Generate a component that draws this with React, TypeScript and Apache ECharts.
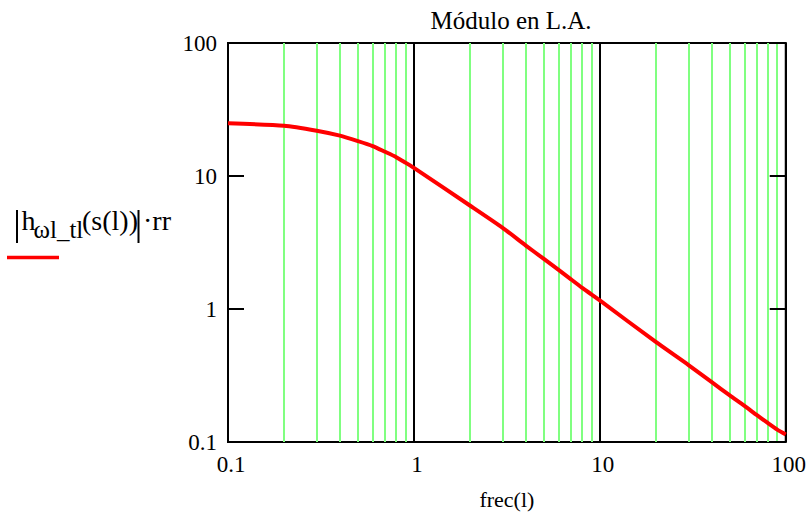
import React, { useEffect, useRef } from "react";
import * as echarts from "echarts";

const freq = [0.1, 0.2, 0.3, 0.4, 0.5, 0.6, 0.7, 0.8, 0.9, 1, 2, 3, 4, 5, 6, 7, 8, 9, 10, 20, 30, 40, 50, 60, 70, 80, 90, 100];
const magnitude = [24.9, 23.9, 21.9, 20.1, 18.3, 16.8, 15.2, 13.9, 12.6, 11.5, 6.0, 4.08, 3.0, 2.38, 1.97, 1.67, 1.45, 1.29, 1.16, 0.565, 0.379, 0.282, 0.224, 0.187, 0.159, 0.139, 0.124, 0.114];
const minorGridX = [0.2, 0.3, 0.4, 0.5, 0.6, 0.7, 0.8, 0.9, 2, 3, 4, 5, 6, 7, 8, 9, 20, 30, 40, 50, 60, 70, 80, 90];
const tickLabels = ["0.1", "1", "10", "100"];

const FONT = "'Liberation Serif', 'Times New Roman', serif";

function fmt(v: number) {
  let best = tickLabels[0];
  let bd = Infinity;
  for (const t of tickLabels) {
    const d = Math.abs(Math.log10(Number(t)) - Math.log10(v));
    if (d < bd) { bd = d; best = t; }
  }
  return best;
}

export default function App() {
  const ref = useRef<HTMLDivElement>(null);
  useEffect(() => {
    if (!ref.current) return;
    const chart = echarts.init(ref.current, undefined, { renderer: "svg" });
    const labelStyle = { color: "#000", fontFamily: FONT, fontSize: 23 };
    const mainSize = 28;
    const subSize = 25;
    const mid = (baseline: number, size: number) => baseline - 0.33 * size;
    chart.setOption({
      animation: false,
      backgroundColor: "#fff",
      title: {
        text: "Módulo en L.A.",
        left: 506,
        textAlign: "center",
        top: 3,
        textStyle: { color: "#000", fontFamily: FONT, fontSize: 25, fontWeight: "normal" },
      },
      grid: { left: 228, top: 43, right: 23, bottom: 73, show: true, borderColor: "#000", borderWidth: 2, backgroundColor: "transparent" },
      xAxis: {
        type: "log",
        logBase: 10,
        min: 0.1,
        max: 100,
        name: "frec(l)",
        nameLocation: "middle",
        nameGap: 46,
        nameTextStyle: { color: "#000", fontFamily: FONT, fontSize: 22 },
        axisLine: { show: false },
        axisTick: { show: false },
        axisLabel: { ...labelStyle, margin: 11, formatter: (v: number) => fmt(v), padding: [0, 0, 0, 6] },
        splitLine: { show: true, lineStyle: { color: "#000", width: 2 } },
      },
      yAxis: [
        {
          type: "log",
          logBase: 10,
          min: 0.1,
          max: 100,
          position: "left",
          z: 10,
          axisLine: { show: false },
          axisTick: { show: true, inside: true, length: 16, lineStyle: { color: "#000", width: 2 } },
          axisLabel: { ...labelStyle, margin: 11, formatter: (v: number) => fmt(v), padding: [10, 0, 0, 0] },
          splitLine: { show: false },
        },
        {
          type: "log",
          logBase: 10,
          min: 0.1,
          max: 100,
          position: "right",
          z: 10,
          axisLine: { show: false },
          axisTick: { show: true, inside: true, length: 16, lineStyle: { color: "#000", width: 2 } },
          axisLabel: { show: false },
          splitLine: { show: false },
        },
      ],
      series: [
        {
          type: "line",
          data: [],
          z: 1,
          silent: true,
          markLine: {
            silent: true,
            symbol: "none",
            label: { show: false },
            lineStyle: { color: "#80ff80", width: 2, type: "solid" },
            data: minorGridX.map((x) => ({ xAxis: x })),
          },
        },
        {
          type: "line",
          z: 5,
          data: freq.map((f, i) => [f, magnitude[i]]),
          showSymbol: false,
          smooth: 0.2,
          lineStyle: { color: "#ff0000", width: 4, join: "round" },
          itemStyle: { color: "#ff0000" },
        },
      ],
      graphic: [
        { type: "line", shape: { x1: 17, y1: 210, x2: 17, y2: 243 }, style: { stroke: "#000", lineWidth: 2 } },
        { type: "text", x: 21.5, y: mid(230, mainSize), style: { text: "h", fill: "#000", font: `${mainSize}px ${FONT}`, align: "left", verticalAlign: "middle" } },
        { type: "text", x: 33.5, y: mid(238, subSize), style: { text: "ωl_tl", fill: "#000", font: `${subSize}px ${FONT}`, align: "left", verticalAlign: "middle" } },
        { type: "text", x: 82, y: mid(230, mainSize), style: { text: "(s(l))", fill: "#000", font: `${mainSize}px ${FONT}`, align: "left", verticalAlign: "middle" } },
        { type: "line", shape: { x1: 138.5, y1: 210, x2: 138.5, y2: 243 }, style: { stroke: "#000", lineWidth: 2 } },
        { type: "text", x: 143, y: mid(230, mainSize), style: { text: "·rr", fill: "#000", font: `${mainSize}px ${FONT}`, align: "left", verticalAlign: "middle" } },
        { type: "line", shape: { x1: 7, y1: 257.5, x2: 59, y2: 257.5 }, style: { stroke: "#ff0000", lineWidth: 3.5 } },
      ],
    });
    return () => chart.dispose();
  }, []);
  return <div ref={ref} style={{ position: "fixed", left: 0, top: 0, width: 809, height: 515 }} />;
}
